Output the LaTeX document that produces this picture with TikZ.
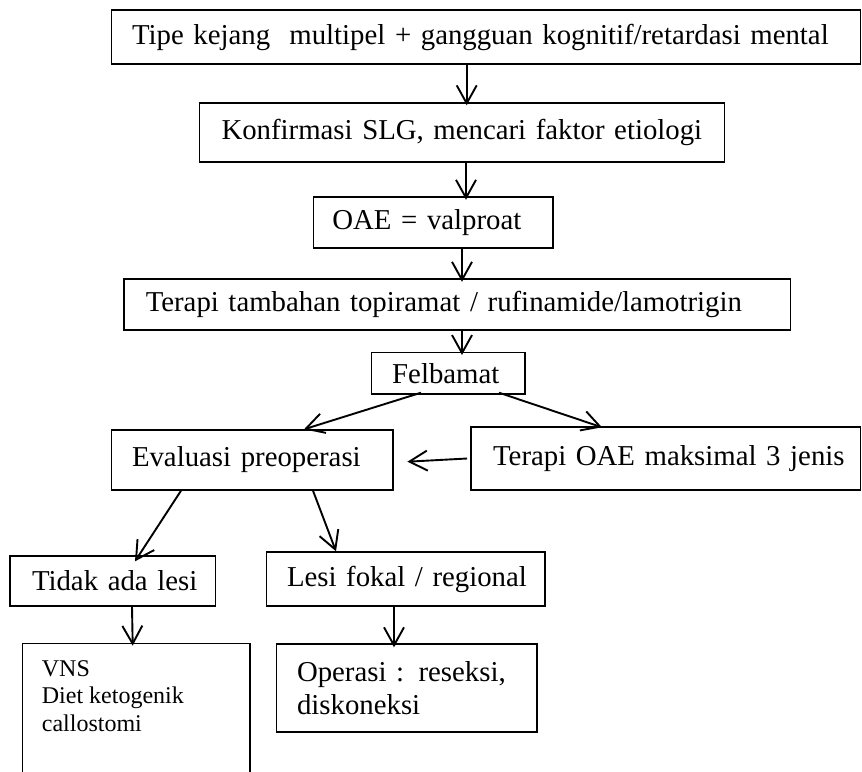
\documentclass[tikz,border=0pt]{standalone}
\usepackage{fontspec}
\setmainfont{Liberation Serif}
\usepackage{tikz}
\usetikzlibrary{arrows.meta,positioning}
\tikzset{
    flowbox/.style={draw, line width=1.4pt, inner ysep=0pt, align=left,
        font=\fontsize{28.8}{33.1}\selectfont},
    flowarrow/.style={line width=1.9pt, -{Straight Barb[length=18pt,width=20pt]}},
}

\begin{document}
\begin{tikzpicture}[x=1pt,y=1pt,yscale=-1,xscale=1]
\useasboundingbox (0,0) rectangle (862,771);
\clip (0,0) rectangle (862,771);
%Boxes
\node[flowbox, minimum height=54pt, text width=708pt, inner xsep=20.5pt] (tipe) at (486.05,37) {\mbox{Tipe kejang~ multipel + gangguan kognitif/retardasi mental}};
\node[flowbox, minimum height=59pt, text width=481pt, inner xsep=22pt] (konfirmasi) at (462,132.5) {\mbox{Konfirmasi SLG, mencari faktor etiologi}};
\node[flowbox, minimum height=51pt, text width=201.6pt, inner xsep=19pt] (oae) at (433.2,222.5) {\mbox{OAE = valproat}};
\node[flowbox, minimum height=51pt, text width=623pt, inner xsep=21.7pt] (tambahan) at (457.25,304.5) {\mbox{Terapi tambahan topiramat / rufinamide/lamotrigin}};
\node[flowbox, minimum height=41.3pt, text width=112.3pt, inner xsep=20.5pt] (felbamat) at (448.35,373.35) {\mbox{Felbamat}};
\node[flowbox, minimum height=60pt, text width=240.6pt, inner xsep=20.4pt] (evaluasi) at (252.3,460) {\mbox{Evaluasi preoperasi}};
\node[flowbox, minimum height=63pt, text width=345pt, inner xsep=22.3pt] (terapioae) at (665.6,458.5) {\mbox{Terapi OAE maksimal 3 jenis}};
\node[flowbox, minimum height=50pt, text width=161.5pt, inner xsep=22pt] (tidaklesi) at (112.75,581) {\mbox{Tidak ada lesi}};
\node[flowbox, minimum height=54pt, text width=237.6pt, inner xsep=20.4pt] (lesifokal) at (405.8,579) {\mbox{Lesi fokal / regional}};
\node[flowbox, minimum height=88pt, text width=219.5pt, inner xsep=20.5pt] (operasi) at (406.75,688) {Operasi : reseksi,\\diskoneksi};
\node[draw, line width=1.4pt, anchor=north west, inner xsep=19.5pt, inner ysep=17pt,
      font=\fontsize{24}{27.6}\selectfont] (vns) at (21.7,642.7)
      {\parbox[t][150pt][t]{188.6pt}{VNS\\Diet ketogenik\\callostomi}};
%Straight Arrows
\draw[flowarrow] ([xshift=-19.35pt]tipe.south) -- ([xshift=4.7pt,yshift=3pt]konfirmasi.north);
\draw[flowarrow] ([xshift=4pt]konfirmasi.south) -- ([xshift=32.8pt,yshift=3.5pt]oae.north);
\draw[flowarrow] ([xshift=28.8pt]oae.south) -- ([xshift=4.75pt,yshift=3.5pt]tambahan.north);
\draw[flowarrow] ([xshift=4.75pt]tambahan.south) -- ([xshift=13.65pt,yshift=3pt]felbamat.north);
\draw[flowarrow] ([xshift=-27.35pt,yshift=-2pt]felbamat.south) -- ([xshift=51.7pt]evaluasi.north);
\draw[flowarrow] ([xshift=50.65pt,yshift=-2pt]felbamat.south) -- ([xshift=-63.6pt,yshift=1pt]terapioae.north);
\draw[flowarrow] ([xshift=-3pt]terapioae.west) -- ([xshift=13.7pt,yshift=1.7pt]evaluasi.east);
\draw[flowarrow] ([xshift=-71.3pt]evaluasi.south) -- ([xshift=22.25pt,yshift=6pt]tidaklesi.north);
\draw[flowarrow] ([xshift=60.7pt]evaluasi.south) -- ([xshift=-69.8pt]lesifokal.north);
\draw[flowarrow] ([xshift=19.25pt]tidaklesi.south) -- ([xshift=-3.5pt,yshift=3pt]vns.north);
\draw[flowarrow] ([xshift=-11.8pt]lesifokal.south) -- ([xshift=-12.75pt,yshift=4pt]operasi.north);
\end{tikzpicture}
\end{document}
